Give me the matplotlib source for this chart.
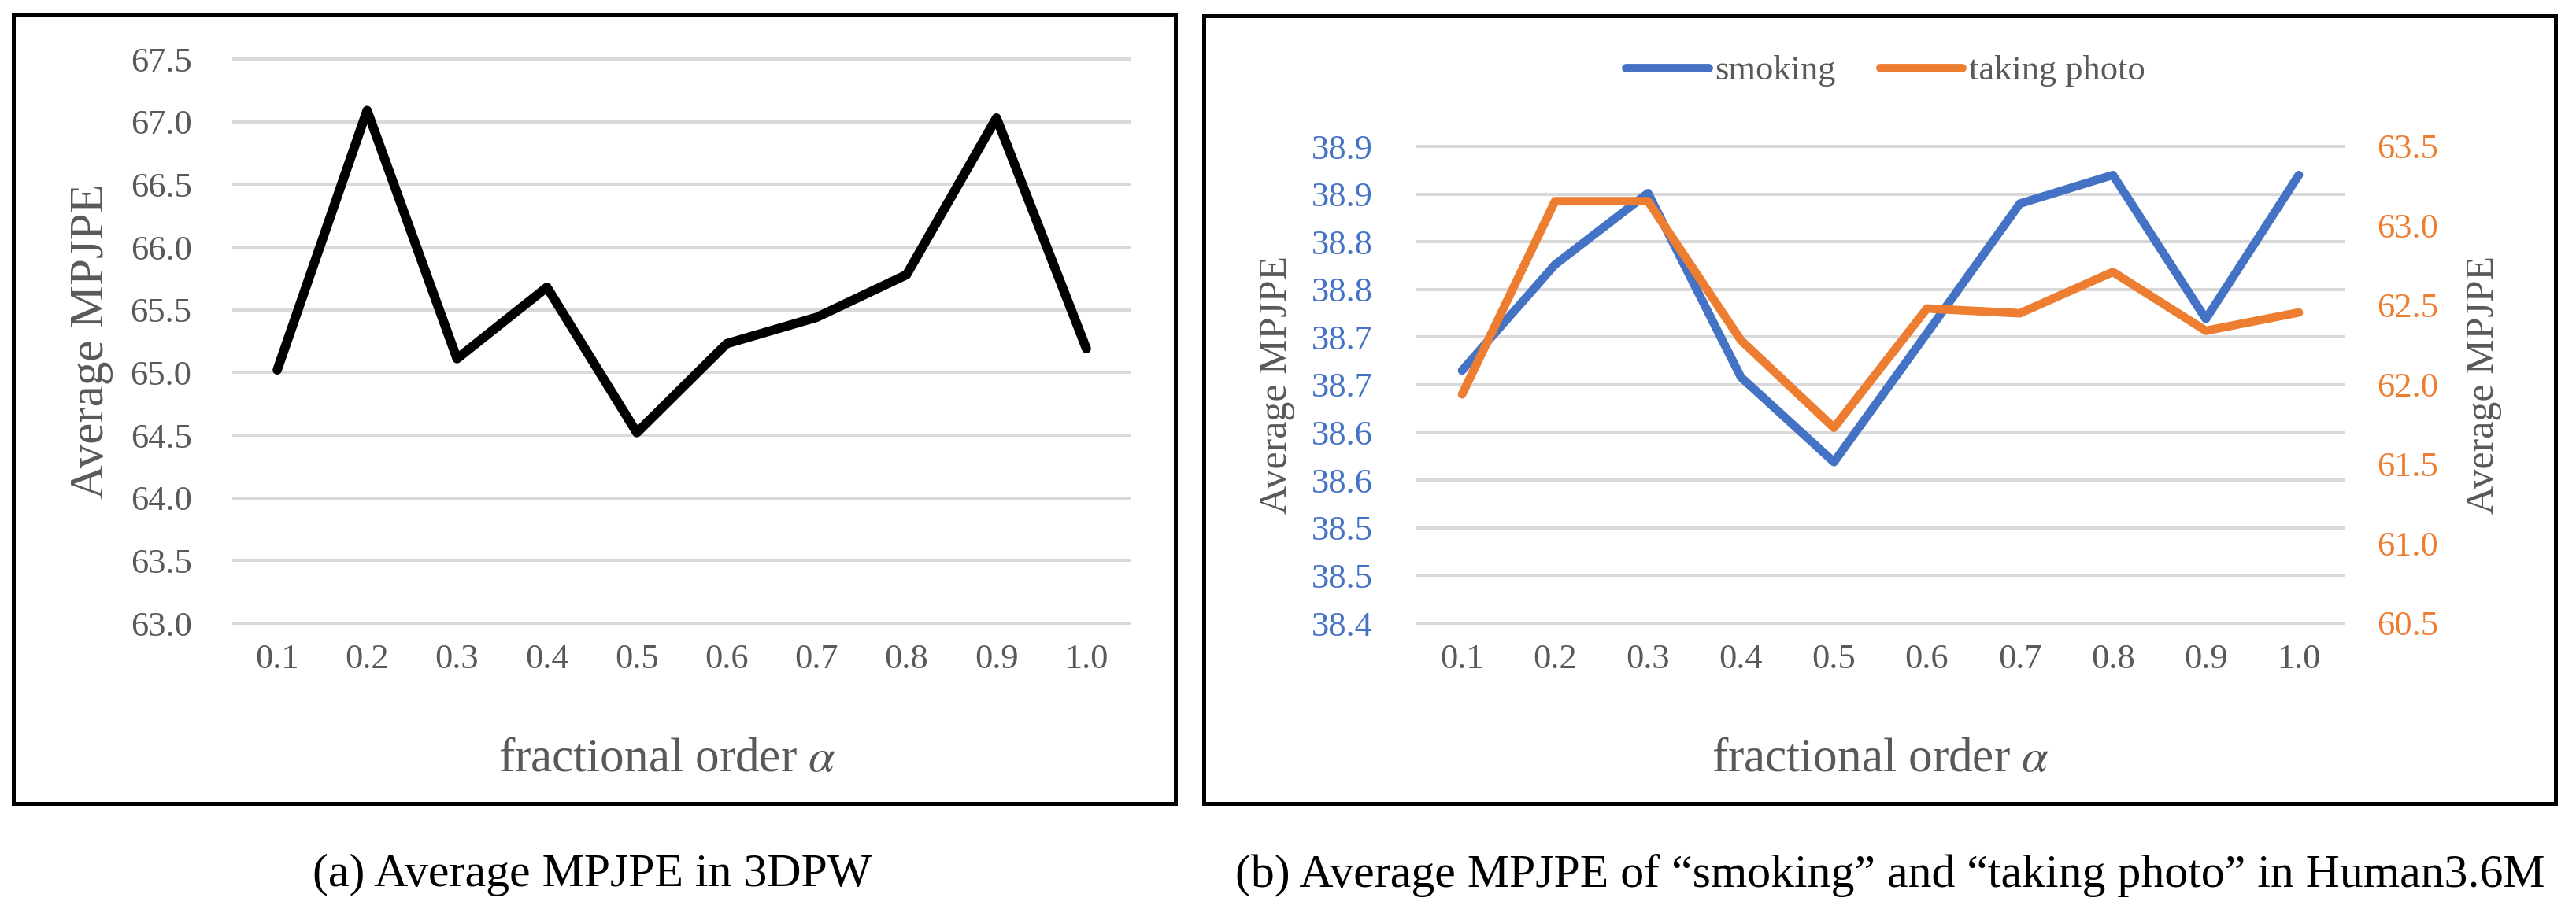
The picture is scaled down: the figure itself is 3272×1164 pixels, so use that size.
import matplotlib
matplotlib.use("Agg")
import matplotlib.pyplot as plt
from matplotlib.patches import Rectangle
import numpy as np

plt.rcParams['font.family'] = ['Liberation Serif', 'DejaVu Serif']
plt.rcParams['mathtext.fontset'] = 'stix'

# ---------------- data ----------------
alpha_labels = ['0.1', '0.2', '0.3', '0.4', '0.5', '0.6', '0.7', '0.8', '0.9', '1.0']

mpjpe_3dpw = [65.02, 67.09, 65.11, 65.68, 64.52, 65.23, 65.44, 65.78, 67.03, 65.19]
yticks_a = [63.0, 63.5, 64.0, 64.5, 65.0, 65.5, 66.0, 66.5, 67.0, 67.5]
yticklabels_a = ['63.0', '63.5', '64.0', '64.5', '65.0', '65.5', '66.0', '66.5', '67.0', '67.5']

smoking = [38.665, 38.776, 38.851, 38.658, 38.569, 38.704, 38.840, 38.870, 38.719, 38.870]
taking_photo = [61.94, 63.155, 63.155, 62.28, 61.73, 62.48, 62.45, 62.71, 62.34, 62.455]
yticks_b_left = [38.40, 38.45, 38.50, 38.55, 38.60, 38.65, 38.70, 38.75, 38.80, 38.85, 38.90]
yticklabels_b_left = ['38.4', '38.5', '38.5', '38.6', '38.6', '38.7', '38.7', '38.8', '38.8', '38.9', '38.9']
yticks_b_right = [60.5, 61.0, 61.5, 62.0, 62.5, 63.0, 63.5]
yticklabels_b_right = ['60.5', '61.0', '61.5', '62.0', '62.5', '63.0', '63.5']

caption_a = '(a) Average MPJPE in 3DPW'
caption_b = '(b) Average MPJPE of \u201csmoking\u201d and \u201ctaking photo\u201d in Human3.6M'

# ---------------- style ----------------
W, H = 3273, 1164
GRAY = '#595959'
GRID = '#D9D9D9'
BLUE = '#4472C4'
ORANGE = '#ED7D31'
TICK_FS = 32
LW = 7.8

fig = plt.figure(figsize=(W / 100, H / 100), dpi=100)
fig.patch.set_facecolor('white')


def px_axes(x0, x1, y0, y1):
    return fig.add_axes([x0 / W, 1 - y1 / H, (x1 - x0) / W, (y1 - y0) / H])


def clean(ax):
    for s in ax.spines.values():
        s.set_visible(False)
    ax.tick_params(length=0)


x = np.arange(len(alpha_labels))

# ---------------- panel (a) ----------------
axa = px_axes(295, 1437, 75, 792)
clean(axa)
axa.set_xlim(-0.5, len(alpha_labels) - 0.5)
axa.set_ylim(yticks_a[0], yticks_a[-1])
axa.hlines(yticks_a, -0.5, len(alpha_labels) - 0.5, colors=GRID, lw=2.9, clip_on=False, zorder=1)
axa.plot(x, mpjpe_3dpw, color='black', lw=8.5, solid_capstyle='round',
         solid_joinstyle='round', zorder=3, clip_on=False)
axa.set_xticks(x)
axa.set_xticklabels(alpha_labels, fontsize=TICK_FS, color=GRAY)
axa.set_yticks(yticks_a)
axa.set_yticklabels(yticklabels_a, fontsize=TICK_FS, color=GRAY)
axa.tick_params(axis='y', pad=37)
axa.tick_params(axis='x', pad=19)
axa.set_ylabel('Average MPJPE', fontsize=44, color=GRAY, va='center')
axa.yaxis.set_label_coords((116 - 295) / 1142, 0.5)
axa.set_xlabel('fractional order $\\alpha$', fontsize=44, color=GRAY, va='center')
axa.xaxis.set_label_coords((848 - 295) / 1142, (792 - 965) / 717)

# ---------------- panel (b) ----------------
axb = px_axes(1798, 2979, 186, 792)
clean(axb)
axb.set_xlim(-0.5, len(alpha_labels) - 0.5)
axb.set_ylim(yticks_b_left[0], yticks_b_left[-1])
axb.hlines(yticks_b_left, -0.5, len(alpha_labels) - 0.5, colors=GRID, lw=2.9, clip_on=False, zorder=1)
l1, = axb.plot(x, smoking, color=BLUE, lw=LW, solid_capstyle='round',
               solid_joinstyle='round', zorder=3, label='smoking', clip_on=False)
axb.set_xticks(x)
axb.set_xticklabels(alpha_labels, fontsize=TICK_FS, color=GRAY)
axb.set_yticks(yticks_b_left)
axb.set_yticklabels(yticklabels_b_left, fontsize=TICK_FS, color=BLUE)
axb.tick_params(axis='y', pad=39)
axb.tick_params(axis='x', pad=19)
axb.set_ylabel('Average MPJPE', fontsize=36, color=GRAY, va='center')
axb.yaxis.set_label_coords((1621.6 - 1798) / 1181, 0.5)
axb.set_xlabel('fractional order $\\alpha$', fontsize=44, color=GRAY, va='center')
axb.xaxis.set_label_coords(0.5, (792 - 965) / 606)

axr = axb.twinx()
clean(axr)
axr.set_ylim(yticks_b_right[0], yticks_b_right[-1])
l2, = axr.plot(x, taking_photo, color=ORANGE, lw=LW, solid_capstyle='round',
               solid_joinstyle='round', zorder=4, label='taking photo', clip_on=False)
axr.set_yticks(yticks_b_right)
axr.set_yticklabels(yticklabels_b_right, fontsize=TICK_FS, color=ORANGE)
axr.tick_params(axis='y', pad=29)
axr.set_ylabel('Average MPJPE', fontsize=36, color=GRAY, va='center', rotation=90)
axr.yaxis.set_label_coords((3155 - 1798) / 1181, 0.5)

leg = axb.legend(handles=[l1, l2], loc='center', bbox_to_anchor=((2395 - 1798) / 1181, (792 - 90) / 606),
                 ncol=2, frameon=False, fontsize=TICK_FS, handlelength=2.35, handletextpad=0.2,
                 columnspacing=1.25, borderpad=0, borderaxespad=0)
for t in leg.get_texts():
    t.set_color(GRAY)

# ---------------- frames and captions ----------------
def box(x0, y0, x1, y1):
    fig.add_artist(Rectangle((x0 / W, 1 - y1 / H), (x1 - x0) / W, (y1 - y0) / H,
                             transform=fig.transFigure, fill=False, edgecolor='black', lw=3.6))

box(16.5, 19.5, 1493, 1021)
box(1529, 20, 3246, 1021)

fig.text(752 / W, 1 - 1112 / H, caption_a, fontsize=43, color='black', ha='center', va='center')
fig.text(2401 / W, 1 - 1112 / H, caption_b, fontsize=43, color='black', ha='center', va='center')

fig.savefig('out.png', dpi=100, facecolor='white')
